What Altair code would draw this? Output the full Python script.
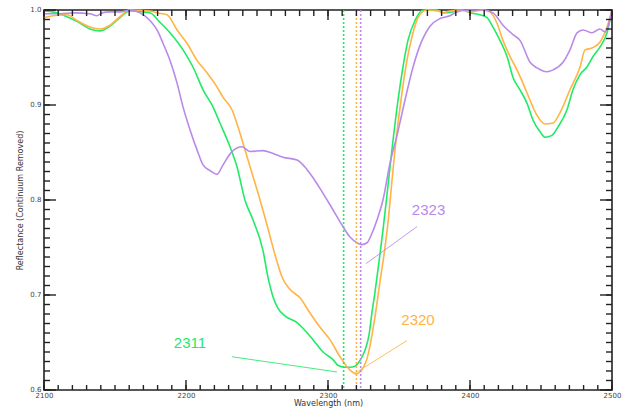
import altair as alt
import pandas as pd

# ---- data ----
green_wl = [2100.0, 2106.3, 2116.2, 2123.2, 2132.4, 2139.4, 2146.5, 2153.5, 2160.6, 2169.7, 2174.6, 2181.7,
            2188.7, 2197.9, 2204.9, 2212.0, 2219.0, 2223.9, 2231.0, 2235.9, 2241.5, 2247.2, 2254.2, 2257.7,
            2261.3, 2264.8, 2269.7, 2278.2, 2282.4, 2289.4, 2296.5, 2303.5, 2307.0, 2311.3, 2315.5, 2319.0,
            2322.5, 2326.1, 2328.9, 2331.0, 2333.1, 2335.9, 2338.7, 2342.3, 2345.8, 2349.3, 2352.8, 2356.3,
            2361.3, 2366.9, 2378.9, 2381.0, 2388.0, 2395.1, 2400.0, 2407.0, 2412.0, 2416.2, 2421.1, 2426.1,
            2430.3, 2435.2, 2440.1, 2444.4, 2449.3, 2452.8, 2457.7, 2462.0, 2468.3, 2472.5, 2477.5, 2482.4,
            2486.6, 2491.5, 2496.5, 2500.0]
green_r = [0.999, 0.998, 0.993, 0.988, 0.980, 0.978, 0.983, 0.992, 0.999, 0.998, 0.997, 0.987,
           0.976, 0.958, 0.940, 0.916, 0.898, 0.881, 0.856, 0.835, 0.800, 0.779, 0.747, 0.719,
           0.698, 0.686, 0.678, 0.671, 0.665, 0.653, 0.640, 0.632, 0.626, 0.624, 0.624, 0.625,
           0.631, 0.642, 0.658, 0.682, 0.703, 0.735, 0.768, 0.816, 0.863, 0.905, 0.940, 0.968,
           0.989, 1.000, 0.999, 0.997, 0.998, 1.000, 0.997, 0.995, 0.992, 0.982, 0.968, 0.951,
           0.929, 0.916, 0.902, 0.884, 0.872, 0.866, 0.868, 0.877, 0.895, 0.916, 0.932, 0.940,
           0.951, 0.961, 0.976, 1.000]

orange_wl = [2100.0, 2106.3, 2116.2, 2123.2, 2132.4, 2139.4, 2146.5, 2153.5, 2160.6, 2174.6, 2179.6, 2186.6,
             2193.7, 2200.7, 2207.7, 2214.8, 2221.8, 2226.1, 2232.4, 2236.6, 2240.1, 2245.1, 2250.0, 2257.0,
             2264.1, 2267.6, 2273.2, 2280.3, 2287.3, 2294.4, 2301.4, 2308.5, 2315.5, 2319.7, 2324.6, 2328.2,
             2331.0, 2333.8, 2336.6, 2339.4, 2342.3, 2345.1, 2347.2, 2352.1, 2355.6, 2359.2, 2363.4, 2369.7,
             2376.8, 2380.3, 2385.9, 2393.0, 2400.0, 2409.2, 2414.1, 2419.0, 2423.2, 2428.2, 2433.1, 2437.3,
             2442.3, 2447.2, 2452.8, 2458.5, 2463.4, 2470.4, 2477.5, 2481.0, 2485.9, 2491.5, 2496.5, 2500.0]
orange_r = [0.992, 0.994, 0.995, 0.989, 0.982, 0.980, 0.984, 0.993, 1.000, 0.999, 0.997, 0.995,
            0.979, 0.965, 0.947, 0.934, 0.919, 0.908, 0.895, 0.877, 0.860, 0.835, 0.811, 0.774,
            0.735, 0.719, 0.706, 0.697, 0.681, 0.666, 0.653, 0.635, 0.621, 0.617, 0.623, 0.637,
            0.658, 0.684, 0.714, 0.742, 0.777, 0.821, 0.853, 0.913, 0.947, 0.972, 0.992, 1.000,
            1.000, 0.997, 0.999, 1.000, 0.998, 1.000, 0.998, 0.986, 0.968, 0.951, 0.937, 0.923,
            0.905, 0.889, 0.880, 0.881, 0.892, 0.916, 0.940, 0.958, 0.960, 0.966, 0.982, 1.000]

purple_wl = [2100.0, 2111.3, 2121.8, 2132.4, 2137.3, 2140.8, 2146.5, 2153.5, 2160.6, 2167.6, 2174.6, 2179.6,
             2183.8, 2188.7, 2193.7, 2197.9, 2202.8, 2207.7, 2212.0, 2216.9, 2221.8, 2226.1, 2232.4, 2239.4,
             2245.1, 2254.2, 2261.3, 2268.3, 2278.2, 2287.3, 2296.5, 2301.4, 2308.5, 2315.5, 2320.4, 2323.9,
             2327.5, 2331.0, 2334.5, 2338.7, 2343.7, 2348.6, 2354.2, 2359.9, 2366.2, 2371.8, 2378.9, 2385.9,
             2390.8, 2397.9, 2409.2, 2416.2, 2423.2, 2430.3, 2435.2, 2442.3, 2447.2, 2454.2, 2458.5, 2465.5,
             2470.4, 2475.4, 2479.6, 2485.9, 2491.5, 2495.1, 2500.0]
purple_r = [0.996, 0.996, 0.997, 0.996, 0.994, 0.997, 0.998, 0.998, 1.000, 0.997, 0.989, 0.979,
            0.965, 0.947, 0.923, 0.898, 0.874, 0.853, 0.837, 0.831, 0.827, 0.837, 0.851, 0.856,
            0.851, 0.852, 0.849, 0.845, 0.842, 0.828, 0.807, 0.795, 0.777, 0.761, 0.755, 0.753,
            0.755, 0.765, 0.779, 0.800, 0.839, 0.868, 0.905, 0.940, 0.968, 0.983, 0.991, 0.994,
            0.998, 1.000, 1.000, 0.997, 0.984, 0.974, 0.968, 0.945, 0.939, 0.935, 0.937, 0.945,
            0.958, 0.976, 0.979, 0.976, 0.980, 0.977, 1.000]

series_names = ["green", "orange", "purple"]
series_colors = ["#22ea66", "#ffb444", "#b98ae8"]

# band-centre markers and their labels
marker_wl = [2311, 2320, 2323]
marker_text = ["2311", "2320", "2323"]
label_wl = [2202.8, 2363.4, 2370.8]
label_r = [0.650, 0.674, 0.790]
leader_x1 = [2232.4, 2318.3, 2326.8]
leader_y1 = [0.635, 0.617, 0.733]
leader_x2 = [2306.3, 2355.6, 2362.7]
leader_y2 = [0.619, 0.652, 0.772]

x_major = [2100, 2200, 2300, 2400, 2500]
y_major = [0.6, 0.7, 0.8, 0.9, 1.0]
x_minor = list(range(2100, 2501, 10))
y_minor = [round(0.6 + i * 0.01, 2) for i in range(41)]

# ---- build tables ----
rows = []
for name, wls, rs in [("green", green_wl, green_r), ("orange", orange_wl, orange_r), ("purple", purple_wl, purple_r)]:
    for i, (w, r) in enumerate(zip(wls, rs)):
        rows.append({"series": name, "wl": w, "r": r, "order": i})
curves = pd.DataFrame(rows)
markers = pd.DataFrame({"series": series_names, "wl": marker_wl, "text": marker_text,
                        "lx": label_wl, "ly": label_r,
                        "x1": leader_x1, "y1": leader_y1, "x2": leader_x2, "y2": leader_y2})

W, H = 568, 380
xs = alt.Scale(domain=[2100, 2500], nice=False, zero=False)
ys = alt.Scale(domain=[0.6, 1.0], nice=False, zero=False)
cs = alt.Scale(domain=series_names, range=series_colors)
AX = "#222222"

x_axis = alt.Axis(values=x_major, format="d", tickSize=0, domain=False, grid=False,
                  labelFontSize=7, labelColor="#444", labelPadding=1,
                  labelFont="DejaVu Sans", title="Wavelength (nm)",
                  titleFont="DejaVu Sans", titleFontSize=8, titleFontWeight="normal",
                  titleColor="#333", titlePadding=1, labelFlush=False)
y_axis = alt.Axis(values=y_major, format=".1f", tickSize=0, domain=False, grid=False,
                  labelFontSize=7, labelColor="#444", labelPadding=3, labelOffset=-1,
                  labelFont="DejaVu Sans", title="Reflectance (Continuum Removed)",
                  titleFont="DejaVu Sans", titleFontSize=8, titleFontWeight="normal",
                  titleColor="#333", titlePadding=5, labelFlush=False)


def X(field):
    return alt.X(field, scale=xs, axis=x_axis, title="Wavelength (nm)")


def Y(field):
    return alt.Y(field, scale=ys, axis=y_axis, title="Reflectance (Continuum Removed)")


main = alt.Chart(curves).mark_line(strokeWidth=1.6, interpolate="monotone").encode(
    x=X("wl:Q"),
    y=Y("r:Q"),
    color=alt.Color("series:N", scale=cs, legend=None),
    detail="series:N",
    order="order:Q",
)

vlines = alt.Chart(markers).mark_rule(strokeWidth=1.6, strokeDash=[2, 2]).encode(
    x=X("wl:Q"),
    y=alt.value(0), y2=alt.value(H),
    color=alt.Color("series:N", scale=cs, legend=None),
)

leaders = alt.Chart(markers).mark_rule(strokeWidth=1, opacity=0.85).encode(
    x=X("x1:Q"),
    y=Y("y1:Q"),
    x2="x2:Q", y2="y2:Q",
    color=alt.Color("series:N", scale=cs, legend=None),
)

labels = alt.Chart(markers).mark_text(fontSize=15, font="Liberation Sans", align="center", baseline="middle").encode(
    x=X("lx:Q"),
    y=Y("ly:Q"),
    text="text:N",
    color=alt.Color("series:N", scale=cs, legend=None),
)

xt_minor = pd.DataFrame({"t": x_minor})
xt_major = pd.DataFrame({"t": x_major})
yt_minor = pd.DataFrame({"t": y_minor})
yt_major = pd.DataFrame({"t": y_major})


def xticks(df, y0, y1):
    return alt.Chart(df).mark_rule(color=AX, strokeWidth=1.4).encode(
        x=X("t:Q"), y=alt.value(y0), y2=alt.value(y1))


def yticks(df, x0, x1):
    return alt.Chart(df).mark_rule(color=AX, strokeWidth=1.4).encode(
        y=Y("t:Q"), x=alt.value(x0), x2=alt.value(x1))


ticks = [
    xticks(xt_minor, H, H - 5), xticks(xt_major, H, H - 10),
    xticks(xt_minor, 0, 6), xticks(xt_major, 0, 10),
    yticks(yt_minor, 0, 6), yticks(yt_major, 0, 12),
    yticks(yt_minor, W, W - 6), yticks(yt_major, W, W - 12),
]

chart = alt.layer(main, vlines, leaders, labels, *ticks).properties(
    width=W, height=H,
    autosize=alt.AutoSizeParams(type="none"),
    padding={"left": 44, "top": 10, "right": 15, "bottom": 18},
    background="white",
).configure_view(stroke=AX, strokeWidth=1.6)

chart.save("out.html", embed_options={"renderer": "svg", "actions": False})
